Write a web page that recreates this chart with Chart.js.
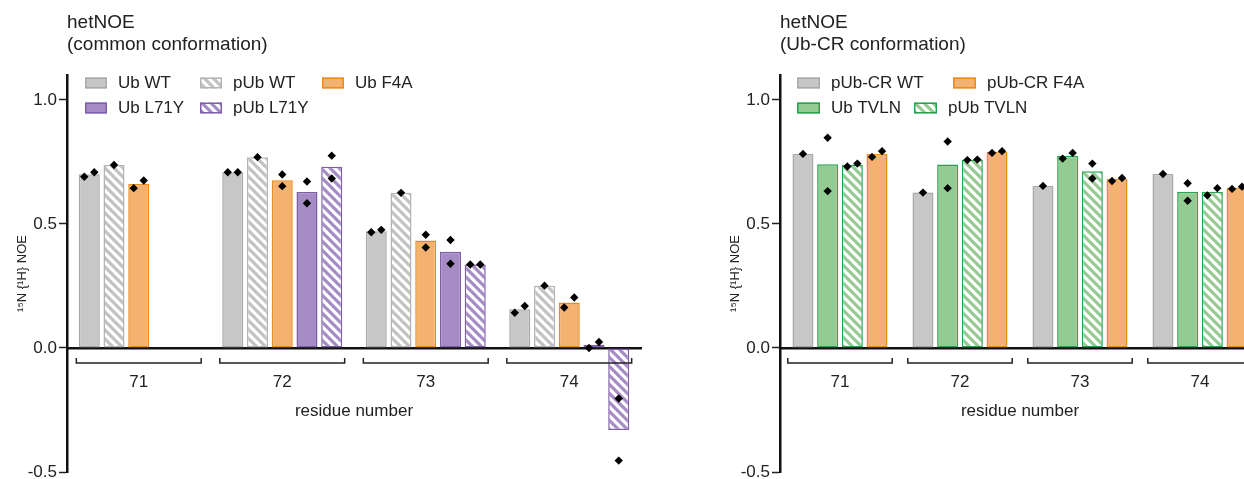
<!DOCTYPE html>
<html>
<head>
<meta charset="utf-8">
<script src="https://cdn.jsdelivr.net/npm/chart.js@4.4.1/dist/chart.umd.min.js"></script>
<style>
html, body { margin: 0; padding: 0; background: #fff; overflow: hidden; }
#wrap { position: relative; width: 1244px; height: 479px; overflow: hidden; }
#left { position: absolute; left: 0; top: 0; }
#right { position: absolute; left: 713px; top: 0; }
</style>
</head>
<body>
<div id="wrap">
  <canvas id="left" width="660" height="479"></canvas>
  <canvas id="right" width="560" height="479"></canvas>
</div>
<script>
var residues = ['71', '72', '73', '74'];
var yTicks = [-0.5, 0, 0.5, 1.0];

// common conformation: bar = mean, reps = single measurements (left to right)
var ubWT = [0.700, 0.708, 0.470, 0.156];
var ubWTReps = [[0.690, 0.708], [0.708, 0.708], [0.466, 0.476], [0.142, 0.169]];
var pubWT = [0.737, 0.769, 0.625, 0.251];
var pubWTReps = [[0.737], [0.769], [0.625], [0.251]];
var ubF4A = [0.661, 0.676, 0.433, 0.183];
var ubF4AReps = [[0.644, 0.675], [0.699, 0.652], [0.456, 0.405], [0.163, 0.203]];
var ubL71Y = [null, 0.628, 0.388, 0.013];
var ubL71YReps = [[], [0.671, 0.583], [0.435, 0.339], [0.000, 0.024]];
var pubL71Y = [null, 0.730, 0.336, -0.331];
var pubL71YReps = [[], [0.775, 0.683], [0.336, 0.336], [-0.204, -0.454]];

// Ub-CR conformation
var pubCRWT = [0.782, 0.626, 0.653, 0.701];
var pubCRWTReps = [[0.782], [0.626], [0.653], [0.701]];
var ubTVLN = [0.740, 0.739, 0.775, 0.629];
var ubTVLNReps = [[0.847, 0.632], [0.832, 0.644], [0.763, 0.786], [0.664, 0.593]];
var pubTVLN = [0.738, 0.758, 0.712, 0.629];
var pubTVLNReps = [[0.731, 0.743], [0.757, 0.759], [0.743, 0.683], [0.615, 0.644]];
var pubCRF4A = [0.782, 0.790, 0.681, 0.646];
var pubCRF4AReps = [[0.770, 0.793], [0.786, 0.793], [0.673, 0.685], [0.641, 0.650]];

var FONT = '"Liberation Sans", Arial, Helvetica, sans-serif';
Chart.defaults.font.family = FONT;
Chart.defaults.color = '#222';

var GRAY = '#c6c7c6', GRAY_B = '#a8a8a8', GRAY_H = '#c2c2c2', GRAY_HB = '#b4b4b4';
var ORANGE = '#f3b26f', ORANGE_B = '#ec8a1c';
var PURPLE = '#a68cc4', PURPLE_B = '#7e5ea9';
var GREEN = '#95ca92', GREEN_B = '#27a24f';

function hatch(ctx, color) {
    var c = document.createElement('canvas');
    c.width = 9; c.height = 9;
    var t = c.getContext('2d');
    t.fillStyle = '#fff';
    t.fillRect(0, 0, 9, 9);
    t.strokeStyle = color;
    t.lineWidth = 3.2;
    t.beginPath();
    t.moveTo(-2, -2); t.lineTo(11, 11);
    t.moveTo(-2, 7); t.lineTo(2, 11);
    t.moveTo(7, -2); t.lineTo(11, 2);
    t.stroke();
    return ctx.createPattern(c, 'repeat');
}

function bar(label, data, reps, fill, border) {
    return {
        label: label,
        data: data,
        reps: reps,
        backgroundColor: fill,
        borderColor: border,
        borderWidth: 1.5,
        borderSkipped: false,
        barPercentage: 0.85
    };
}

// replicate points, brackets, titles and legend
var extras = {
    id: 'extras',
    afterDatasetsDraw: function(chart) {
        var ctx = chart.ctx;
        var ys = chart.scales.y;
        ctx.save();
        ctx.fillStyle = '#000';
        chart.data.datasets.forEach(function(ds, d) {
            var meta = chart.getDatasetMeta(d);
            ds.reps.forEach(function(r, i) {
                if (!r.length || !meta.data[i]) return;
                var x = meta.data[i].x;
                var py = r.map(function(v) { return ys.getPixelForValue(v); });
                var offs = [0];
                if (py.length == 2) {
                    offs = Math.abs(py[0] - py[1]) < 11 ? [-5, 5] : [0, 0];
                }
                py.forEach(function(y, k) {
                    Chart.helpers.drawPoint(ctx, { pointStyle: 'rectRot', radius: 4.2, borderWidth: 0, rotation: 0 }, x + offs[k], y);
                });
            });
        });
        ctx.restore();
    },
    afterDraw: function(chart, args, opts) {
        var ctx = chart.ctx;
        var xs = chart.scales.x, ys = chart.scales.y;
        var n = chart.data.labels.length;
        var half = 0.435 * xs.width / n;
        var by = ys.getPixelForValue(0) + 15;
        ctx.save();
        ctx.strokeStyle = '#222';
        ctx.lineWidth = 1.5;
        for (var i = 0; i < n; i++) {
            var cx = xs.getPixelForValue(i);
            ctx.beginPath();
            ctx.moveTo(cx - half, by - 5);
            ctx.lineTo(cx - half, by);
            ctx.lineTo(cx + half, by);
            ctx.lineTo(cx + half, by - 5);
            ctx.stroke();
        }

        ctx.fillStyle = '#222';
        ctx.textAlign = 'left';
        ctx.textBaseline = 'alphabetic';
        ctx.font = '19px ' + FONT;
        opts.title.forEach(function(line, k) {
            ctx.fillText(line, chart.chartArea.left, 28 + k * 22);
        });

        ctx.font = '17px ' + FONT;
        ctx.textBaseline = 'middle';
        opts.legend.forEach(function(it) {
            var ds = chart.data.datasets.filter(function(s) { return s.label == it.label; })[0];
            var w = opts.boxWidth, h = 11;
            ctx.fillStyle = ds.backgroundColor;
            ctx.fillRect(it.x, it.y - h / 2, w, h);
            ctx.strokeStyle = ds.borderColor;
            ctx.lineWidth = 1.5;
            ctx.strokeRect(it.x + 0.75, it.y - h / 2 + 0.75, w - 1.5, h - 1.5);
            ctx.fillStyle = '#222';
            ctx.fillText(it.label, it.x + w + 11, it.y);
        });
        ctx.restore();
    }
};

function makeOptions(padRight, title, legend, boxWidth) {
    return {
        responsive: false,
        devicePixelRatio: 1,
        animation: false,
        layout: { padding: { left: 0, top: 75, right: padRight, bottom: 7 } },
        datasets: { bar: { categoryPercentage: 0.86 } },
        plugins: {
            legend: { display: false },
            tooltip: { enabled: false },
            extras: { title: title, legend: legend, boxWidth: boxWidth }
        },
        scales: {
            x: {
                type: 'category',
                position: { y: 0 },
                z: 1,
                afterFit: function(s) { s.height = s.height - 21; },
                grid: { display: true, drawOnChartArea: false, drawTicks: false },
                border: { display: true, color: '#111', width: 2.5 },
                ticks: { padding: 24, font: { size: 17 }, color: '#222' },
                title: { display: true, text: 'residue number', font: { size: 17 }, color: '#222', padding: { top: 6, bottom: 0 } }
            },
            y: {
                min: -0.5,
                max: 1.1,
                z: 1,
                afterBuildTicks: function(s) {
                    s.ticks = yTicks.map(function(v) { return { value: v }; });
                },
                afterFit: function(s) {
                    s.width = 67;
                    s.paddingTop = 0;
                    s.paddingBottom = 0;
                },
                grid: { drawOnChartArea: false, drawTicks: true, tickLength: 8, tickWidth: 1.5, tickColor: '#222' },
                border: { display: true, color: '#111', width: 2.5 },
                ticks: {
                    padding: 2,
                    font: { size: 17 },
                    color: '#222',
                    callback: function(v) { return Number(v).toFixed(1); }
                },
                title: { display: true, text: '¹⁵N {¹H} NOE', font: { size: 13 }, color: '#222', padding: { top: 15, bottom: 0 } }
            }
        }
    };
}

var ctxL = document.getElementById('left').getContext('2d');
var optsL = makeOptions(19, ['hetNOE', '(common conformation)'], [
    { label: 'Ub WT', x: 85, y: 83 },
    { label: 'pUb WT', x: 200, y: 83 },
    { label: 'Ub F4A', x: 322, y: 83 },
    { label: 'Ub L71Y', x: 85, y: 108 },
    { label: 'pUb L71Y', x: 200, y: 108 }
], 22);
optsL.datasets.bar.categoryPercentage = 0.862;
new Chart(ctxL, {
    type: 'bar',
    data: {
        labels: residues,
        datasets: [
            bar('Ub WT', ubWT, ubWTReps, GRAY, GRAY_B),
            bar('pUb WT', pubWT, pubWTReps, hatch(ctxL, GRAY_H), GRAY_HB),
            bar('Ub F4A', ubF4A, ubF4AReps, ORANGE, ORANGE_B),
            bar('Ub L71Y', ubL71Y, ubL71YReps, PURPLE, PURPLE_B),
            bar('pUb L71Y', pubL71Y, pubL71YReps, hatch(ctxL, PURPLE), PURPLE_B)
        ]
    },
    options: optsL,
    plugins: [extras]
});

var ctxR = document.getElementById('right').getContext('2d');
var optsR = makeOptions(13, ['hetNOE', '(Ub-CR conformation)'], [
    { label: 'pUb-CR WT', x: 84, y: 83 },
    { label: 'pUb-CR F4A', x: 240, y: 83 },
    { label: 'Ub TVLN', x: 84, y: 108 },
    { label: 'pUb TVLN', x: 201, y: 108 }
], 23);
optsR.datasets.bar.categoryPercentage = 0.823;
new Chart(ctxR, {
    type: 'bar',
    data: {
        labels: residues,
        datasets: [
            bar('pUb-CR WT', pubCRWT, pubCRWTReps, GRAY, GRAY_B),
            bar('Ub TVLN', ubTVLN, ubTVLNReps, GREEN, GREEN_B),
            bar('pUb TVLN', pubTVLN, pubTVLNReps, hatch(ctxR, GREEN), GREEN_B),
            bar('pUb-CR F4A', pubCRF4A, pubCRF4AReps, ORANGE, ORANGE_B)
        ]
    },
    options: optsR,
    plugins: [extras]
});
</script>
</body>
</html>
